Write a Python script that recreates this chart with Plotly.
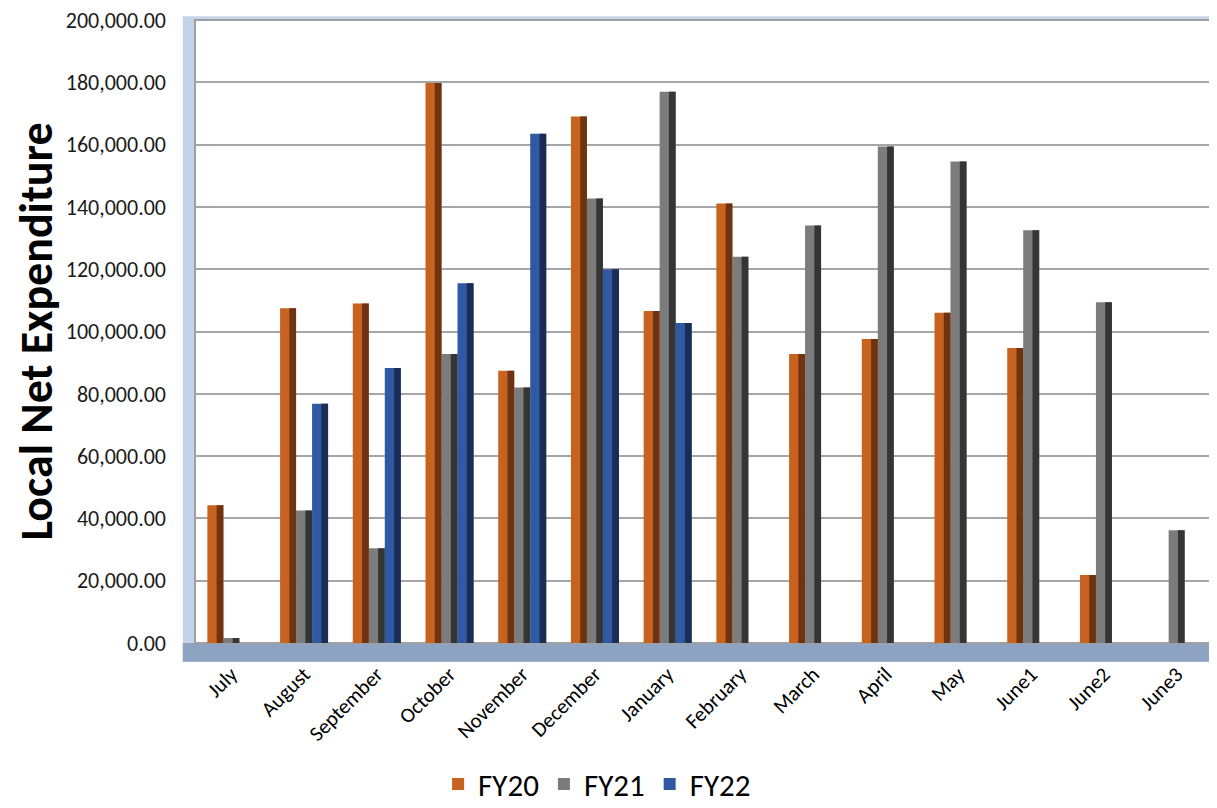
import plotly.graph_objects as go

months = ["July", "August", "September", "October", "November", "December", "January",
          "February", "March", "April", "May", "June1", "June2", "June3"]
fy20 = [44200, 107500, 109000, 179800, 87400, 169000, 106600, 141100, 92800, 97600, 106000, 94700, 21800, None]
fy21 = [1600, 42500, 30400, 92800, 82000, 142700, 177000, 124000, 134000, 159400, 154600, 132500, 109400, 36200]
fy22 = [None, 76800, 88300, 115500, 163500, 120000, 102700, None, None, None, None, None, None, None]
tick_vals = [0, 20000, 40000, 60000, 80000, 100000, 120000, 140000, 160000, 180000, 200000]
tick_text = ["0.00", "20,000.00", "40,000.00", "60,000.00", "80,000.00", "100,000.00",
             "120,000.00", "140,000.00", "160,000.00", "180,000.00", "200,000.00"]

series = [("FY20", fy20, "#C8621F", "#6E3411", -0.33),
          ("FY21", fy21, "#7C7C7C", "#353535", -0.11),
          ("FY22", fy22, "#3059A3", "#1A2D55", 0.11)]
bw = 0.22

fig = go.Figure()
for name, vals, col, dark, off in series:
    fig.add_trace(go.Bar(name=name, x=months, y=vals, width=bw, offset=off,
                         marker=dict(color=col, line=dict(width=0))))
for name, vals, col, dark, off in series:
    fig.add_trace(go.Bar(name=name + " shade", x=months, y=vals, width=bw * 0.42, offset=off + bw * 0.58,
                         marker=dict(color=dark, line=dict(width=0)), showlegend=False, hoverinfo="skip"))

font = "Carlito, Lato, 'Open Sans', sans-serif"
fig.update_layout(
    width=1209, height=800,
    barmode="overlay",
    plot_bgcolor="white", paper_bgcolor="white",
    margin=dict(l=187, r=4, t=12, b=165, autoexpand=False),
    font=dict(family=font, color="#000000"),
    legend=dict(orientation="h", x=0.395, y=-0.227, xanchor="center", yanchor="middle",
                font=dict(size=31, family=font), itemwidth=30, traceorder="normal"),
    xaxis=dict(tickangle=-45, tickfont=dict(size=21, family=font), showline=False,
               showgrid=False, ticks="", ticklabelstandoff=14, automargin=False),
    yaxis=dict(range=[0, 200000], tickvals=tick_vals, ticktext=tick_text, automargin=False,
               tickfont=dict(size=22, family=font, color="#1a1a1a"), showgrid=True,
               gridcolor="#A6A6A6", gridwidth=1.5, zeroline=False, ticks="",
               ticklabelstandoff=28, ticklabeloverflow="allow",
               title=dict(text="<b>Local Net Expenditure</b>", font=dict(size=46, family=font), standoff=10)),
    shapes=[
        dict(type="rect", xref="paper", yref="paper", x0=-0.012, x1=1.003, y0=-0.03, y1=1.006,
             fillcolor="#C5D3E8", line=dict(width=0), layer="below"),
        dict(type="rect", xref="paper", yref="paper", x0=-0.012, x1=1.003, y0=-0.03, y1=0,
             fillcolor="#8EA2C2", line=dict(width=0), layer="below"),
        dict(type="rect", xref="paper", yref="paper", x0=0, x1=1, y0=0, y1=1,
             fillcolor="white", line=dict(color="#A0A0A0", width=2), layer="below"),
    ],
)
fig.write_html("out.html")
